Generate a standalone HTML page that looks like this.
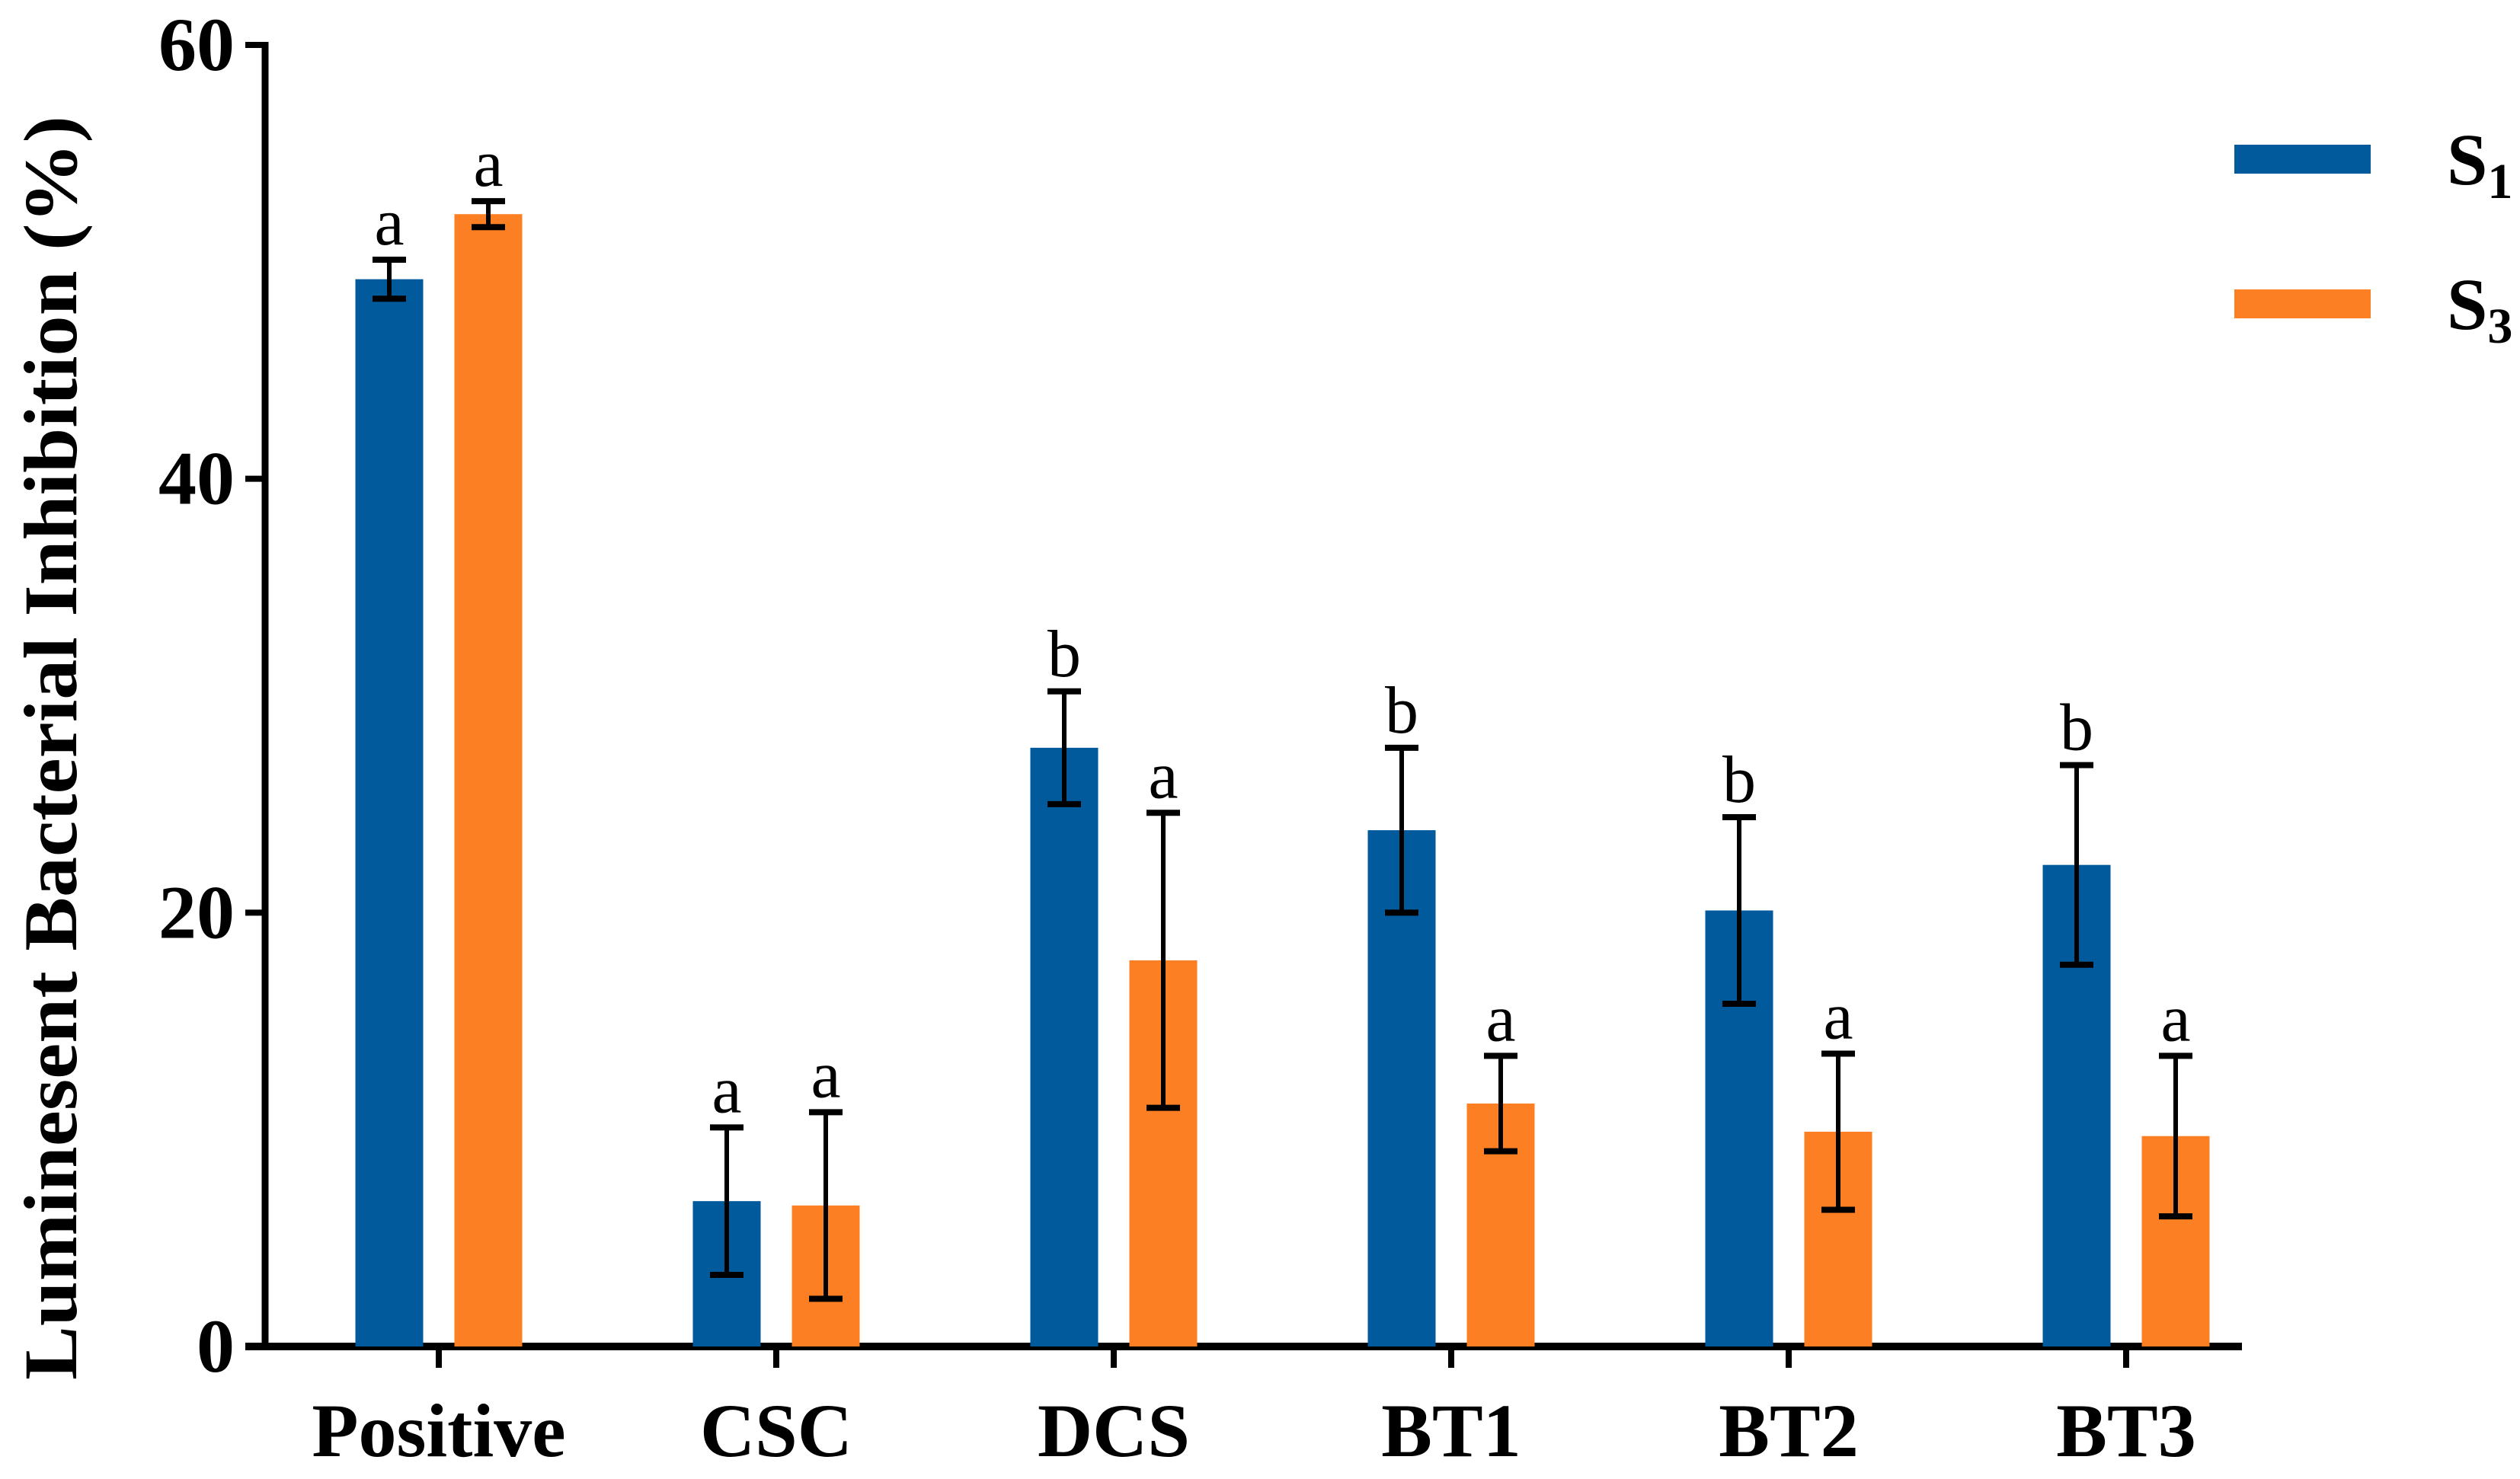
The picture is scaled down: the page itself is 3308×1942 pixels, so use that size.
<!DOCTYPE html>
<html><head><meta charset="utf-8"><style>
html,body{margin:0;padding:0;background:#fff}
svg{display:block}
text{font-family:"Liberation Serif",serif}
</style></head><body>
<svg id="chart" width="3308" height="1942" viewBox="0 0 3308 1942" xmlns="http://www.w3.org/2000/svg">
<g id="axes"></g><g id="marks"></g>
<text transform="translate(100,982) rotate(-90)" text-anchor="middle" font-size="100" font-weight="bold" textLength="1660" lengthAdjust="spacingAndGlyphs">Luminesent Bacterial Inhibition (%)</text>
<g>
<rect x="2933" y="190" width="179" height="38" fill="#005a9c"/>
<text x="3212" y="242" font-size="96" font-weight="bold">S<tspan font-size="66" dy="18">1</tspan></text>
<rect x="2933" y="380" width="179" height="38" fill="#fd7f23"/>
<text x="3212" y="432" font-size="96" font-weight="bold">S<tspan font-size="66" dy="18">3</tspan></text>
</g>
</svg>
<script>
const categories = ["Positive","CSC","DCS","BT1","BT2","BT3"];
const s1Values = [49.2, 6.7, 27.6, 23.8, 20.1, 22.2];
const s1Errors = [0.9, 3.4, 2.6, 3.8, 4.3, 4.6];
const s1Letters = ["a","a","b","b","b","b"];
const s3Values = [52.2, 6.5, 17.8, 11.2, 9.9, 9.7];
const s3Errors = [0.6, 4.3, 6.8, 2.2, 3.6, 3.7];
const s3Letters = ["a","a","a","a","a","a"];
const yTicks = [0, 20, 40, 60];

const NS = "http://www.w3.org/2000/svg";
const x0 = 348, xEnd = 2943, yZero = 1768, yTop = 59, yMax = 60;
const firstCenter = 576, step = 443, barW = 89, offset = 65;
const y = v => yZero - (v / yMax) * (yZero - yTop);
const xc = i => firstCenter + i * step;
function mk(tag, attrs, parent) {
  const e = document.createElementNS(NS, tag);
  for (const k in attrs) e.setAttribute(k, attrs[k]);
  parent.appendChild(e);
  return e;
}
const axes = document.getElementById('axes');
const marks = document.getElementById('marks');
let yl = mk('line', {x1: x0, y1: yTop - 4, x2: x0, y2: yZero + 4, stroke: '#000', 'stroke-width': 9}, axes);


let xl = mk('line', {x1: x0 - 26, y1: yZero, x2: xEnd, y2: yZero, stroke: '#000', 'stroke-width': 10}, axes);


yTicks.forEach(t => {
  const tk = mk('line', {x1: x0 - 26, y1: y(t), x2: x0, y2: y(t), stroke: '#000', 'stroke-width': 8}, axes);
  
  
  const tl = mk('text', {x: x0 - 40, y: y(t) + 33, 'text-anchor': 'end', 'font-size': 100, 'font-weight': 'bold'}, axes);
  tl.textContent = t;
  
  
});
categories.forEach((c, i) => {
  const tk = mk('line', {x1: xc(i), y1: yZero, x2: xc(i), y2: yZero + 28, stroke: '#000', 'stroke-width': 8}, axes);
  
  
  const tl = mk('text', {x: xc(i), y: 1912, 'text-anchor': 'middle', 'font-size': 100, 'font-weight': 'bold'}, axes);
  tl.textContent = c;
  
  
});
function series(vals, errs, letters, dx, color, name) {
  vals.forEach((v, i) => {
    const cx = xc(i) + dx;
    const r = mk('rect', {x: cx - barW / 2, y: y(v), width: barW, height: yZero - y(v), fill: color}, marks);
    
    
    const e = errs[i];
    const g = mk('g', {stroke: '#000', 'stroke-width': 6}, marks);
    
    
    mk('line', {x1: cx, y1: y(v + e), x2: cx, y2: y(v - e)}, g);
    mk('line', {x1: cx - 22, y1: y(v + e), x2: cx + 22, y2: y(v + e), 'stroke-width': 8}, g);
    mk('line', {x1: cx - 22, y1: y(v - e), x2: cx + 22, y2: y(v - e), 'stroke-width': 8}, g);
    const t = mk('text', {x: cx, y: y(v + e) - 20, 'text-anchor': 'middle', 'font-size': 88}, marks);
    t.textContent = letters[i];
    
    
  });
}
series(s1Values, s1Errors, s1Letters, -offset, '#005a9c', 's1');
series(s3Values, s3Errors, s3Letters, offset, '#fd7f23', 's3');
</script>
</body></html>
